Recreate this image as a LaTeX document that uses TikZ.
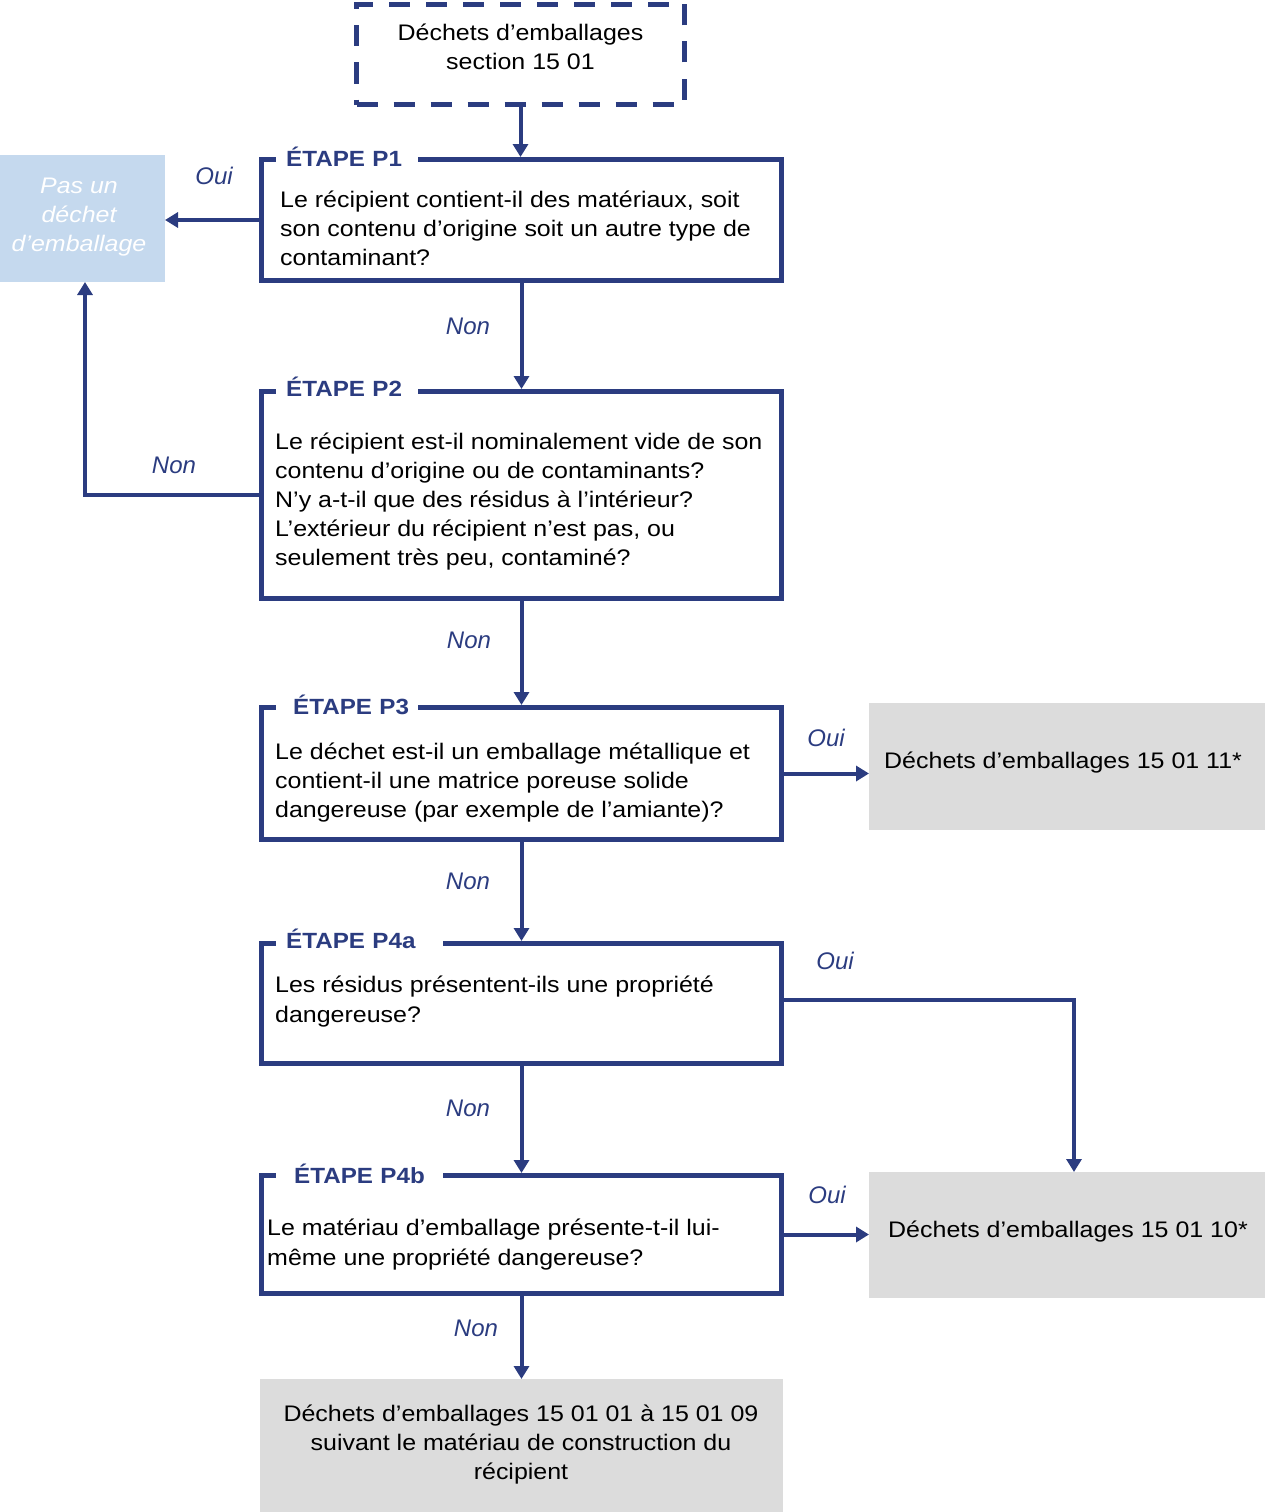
\documentclass[tikz,border=0pt]{standalone}
\usepackage{fontspec}
\setmainfont{Liberation Sans}
\newfontfamily\bodyfont{Liberation Sans}[FakeStretch=1.11]
\newfontfamily\titlefont{Liberation Sans}[FakeStretch=1.1]
\usetikzlibrary{arrows.meta}
\definecolor{navy}{RGB}{43,60,128}
\definecolor{lblue}{RGB}{197,217,238}
\definecolor{lgrey}{RGB}{220,220,220}
\newcommand\bodysize{\bodyfont\fontsize{22.5}{29}\selectfont}
\newcommand\leftlines[1]{\parbox[t]{510pt}{\raggedright #1}}
\newcommand\midlines[2]{\parbox[t]{#1}{\centering #2}}
\begin{document}
\begin{tikzpicture}[x=1pt,y=-1pt,
  stepbox/.style={draw=navy,line width=5pt,inner sep=0pt,minimum width=520pt},
  fillbox/.style={fill=#1,draw=none,inner sep=0pt,outer sep=0pt},
  etape/.style={anchor=base west,fill=white,inner xsep=0pt,inner ysep=1pt,align=left,font=\titlefont\bfseries\fontsize{22}{25}\selectfont,text=navy},
  body/.style={anchor=base west,inner sep=0pt,font=\bodysize},
  lab/.style={font=\fontsize{24}{28}\selectfont\itshape,text=navy,inner sep=0pt},
  conn/.style={draw=navy,line width=4pt,-{Triangle[width=15pt,length=13pt]}},
]
\useasboundingbox (0,0) rectangle (1265,1512);

% filled result boxes
\node[fillbox=lblue,minimum width=165pt,minimum height=127pt] (pas) at (82.5,218.5) {};
\node[fillbox=lgrey,minimum width=396pt,minimum height=127pt] (g1) at (1067,766.5) {};
\node[fillbox=lgrey,minimum width=396pt,minimum height=126pt] (g2) at (1067,1235) {};
\node[fillbox=lgrey,minimum width=523pt,minimum height=133pt] (bot) at (521.5,1445.5) {};

% step boxes
\node[stepbox,minimum width=328pt,minimum height=100pt,dash pattern=on 21pt off 16pt] (src) at (520.5,54.5) {};
\node[stepbox,minimum height=121pt] (p1) at (521.5,220) {};
\node[stepbox,minimum height=207pt] (p2) at (521.5,495) {};
\node[stepbox,minimum height=132pt] (p3) at (521.5,773.5) {};
\node[stepbox,minimum height=120pt] (p4a) at (521.5,1003.5) {};
\node[stepbox,minimum height=118pt] (p4b) at (521.5,1234.5) {};

% titles
\node[etape,text width=142pt] (t1) at (276,166.5) {\hspace*{10pt}ÉTAPE P1};
\node[etape,text width=142pt] (t2) at (276,396) {\hspace*{10pt}ÉTAPE P2};
\node[etape,text width=142pt] (t3) at (276,714) {\hspace*{17pt}ÉTAPE P3};
\node[etape,text width=167pt] (t4a) at (276,948) {\hspace*{10pt}ÉTAPE P4a};
\node[etape,text width=167pt] (t4b) at (276,1183) {\hspace*{18pt}ÉTAPE P4b};

% texts
\node[body,anchor=base] (srct) at (520.5,41) {\midlines{320pt}{Déchets d’emballages\\section 15 01}};
\node[body] (p1t) at (280,207) {\leftlines{Le récipient contient-il des matériaux, soit\\son contenu d’origine soit un autre type de\\contaminant?}};
\node[body] (p2t) at (275,449) {\leftlines{Le récipient est-il nominalement vide de son\\contenu d’origine ou de contaminants?\\N’y a-t-il que des résidus à l’intérieur?\\L’extérieur du récipient n’est pas, ou\\seulement très peu, contaminé?}};
\node[body] (p3t) at (275,759) {\leftlines{Le déchet est-il un emballage métallique et\\contient-il une matrice poreuse solide\\dangereuse (par exemple de l’amiante)?}};
\node[body,font=\bodyfont\fontsize{22.5}{30}\selectfont] (p4at) at (275,992) {\leftlines{Les résidus présentent-ils une propriété\\dangereuse?}};
\node[body,font=\bodyfont\fontsize{22.5}{30}\selectfont] (p4bt) at (267,1235) {\leftlines{Le matériau d’emballage présente-t-il lui-\\même une propriété dangereuse?}};
\node[body,anchor=base,text=white,font=\bodysize\itshape] (past) at (79,193) {\midlines{160pt}{Pas un\\déchet\\d’emballage}};
\node[body] (g1t) at (884,768) {Déchets d’emballages 15 01 11*};
\node[body] (g2t) at (888,1237) {Déchets d’emballages 15 01 10*};
\node[body,anchor=base] (bott) at (521,1421) {\midlines{515pt}{Déchets d’emballages 15 01 01 à 15 01 09\\suivant le matériau de construction du\\récipient}};

% connectors
\draw[conn] (src.south) -- (src.south |- p1.north);
\draw[conn] (p1.west) -- (p1.west -| pas.east);
\draw[conn] (p1.south) -- (p2.north);
\draw[conn] (p2.west) -| ([xshift=2.5pt]pas.south);
\draw[conn] (p2.south) -- (p3.north);
\draw[conn] (p3.east) -- (p3.east -| g1.west);
\draw[conn] (p3.south) -- (p4a.north);
\draw[conn] ([yshift=3.5pt]p4a.east) -| ([xshift=7pt]g2.north);
\draw[conn] (p4a.south) -- (p4b.north);
\draw[conn] (p4b.east) -- (p4b.east -| g2.west);
\draw[conn] (p4b.south) -- (bot.north);

% labels
\node[lab] (l1) at (214,176) {Oui};
\node[lab] (l2) at (468,326) {Non};
\node[lab] (l3) at (174,465) {Non};
\node[lab] (l4) at (469,640) {Non};
\node[lab] (l5) at (826,738) {Oui};
\node[lab] (l6) at (468,881) {Non};
\node[lab] (l7) at (835,961) {Oui};
\node[lab] (l8) at (468,1108) {Non};
\node[lab] (l9) at (827,1195) {Oui};
\node[lab] (l10) at (476,1328) {Non};
\end{tikzpicture}
\end{document}
